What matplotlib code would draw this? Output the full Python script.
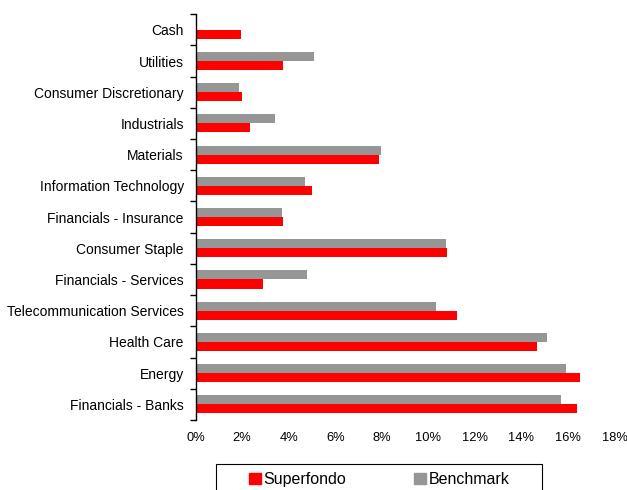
import numpy as np
import matplotlib.pyplot as plt
from matplotlib.patches import Patch, Rectangle

plt.rcParams['font.family'] = ['Liberation Sans', 'DejaVu Sans']

categories = ['Financials - Banks', 'Energy', 'Health Care', 'Telecommunication Services',
              'Financials - Services', 'Consumer Staple', 'Financials - Insurance',
              'Information Technology', 'Materials', 'Industrials',
              'Consumer Discretionary', 'Utilities', 'Cash']
superfondo = [16.4, 16.5, 14.65, 11.25, 2.9, 10.8, 3.75, 5.0, 7.9, 2.35, 1.98, 3.77, 1.93]
benchmark = [15.72, 15.9, 15.08, 10.35, 4.8, 10.77, 3.7, 4.68, 7.95, 3.43, 1.85, 5.08, 0.0]

red = '#ff0000'
gray = '#969696'

fig = plt.figure(figsize=(6.27, 4.9), dpi=100)
ax = fig.add_axes([0.312, 0.143, 0.668, 0.828])

y = np.arange(len(categories))
h = 0.29
ax.barh(y - h / 2, superfondo, height=h, color=red, label='Superfondo')
ax.barh(y + h / 2, benchmark, height=h, color=gray, label='Benchmark')

ax.set_xlim(0, 18)
ax.set_ylim(-0.5, len(categories) - 0.5)
ax.set_xticks(np.arange(0, 19, 2))
ax.set_xticklabels(['%d%%' % v for v in range(0, 19, 2)])
ax.set_yticks(y)
ax.set_yticklabels(categories)
ax.set_yticks(np.arange(-0.5, len(categories), 1), minor=True)
ax.tick_params(axis='y', which='major', length=0, labelsize=10, pad=8.5)
ax.tick_params(axis='y', which='minor', length=4, width=1, direction='out')
ax.tick_params(axis='x', length=0, labelsize=9.3, pad=9)

for s in ['top', 'right', 'bottom']:
    ax.spines[s].set_visible(False)
ax.spines['left'].set_linewidth(1)

# legend frame (box runs off the bottom edge like the original)
fig.patches.append(Rectangle((216 / 627, -0.05), (542 - 216) / 627, 0.05 + 26 / 490,
                             transform=fig.transFigure, fill=False,
                             edgecolor='black', linewidth=0.8))
handles = [Patch(color=red, label='Superfondo'), Patch(color=gray, label='Benchmark')]
leg = fig.legend(handles=handles, loc='upper left', bbox_to_anchor=(0.385, 0.053),
                 borderaxespad=0, ncol=2, frameon=False, fontsize=11.5,
                 handlelength=0.75, handleheight=0.75, handletextpad=0.15,
                 columnspacing=4.25, borderpad=0.5)

fig.savefig('out.png', dpi=100)
